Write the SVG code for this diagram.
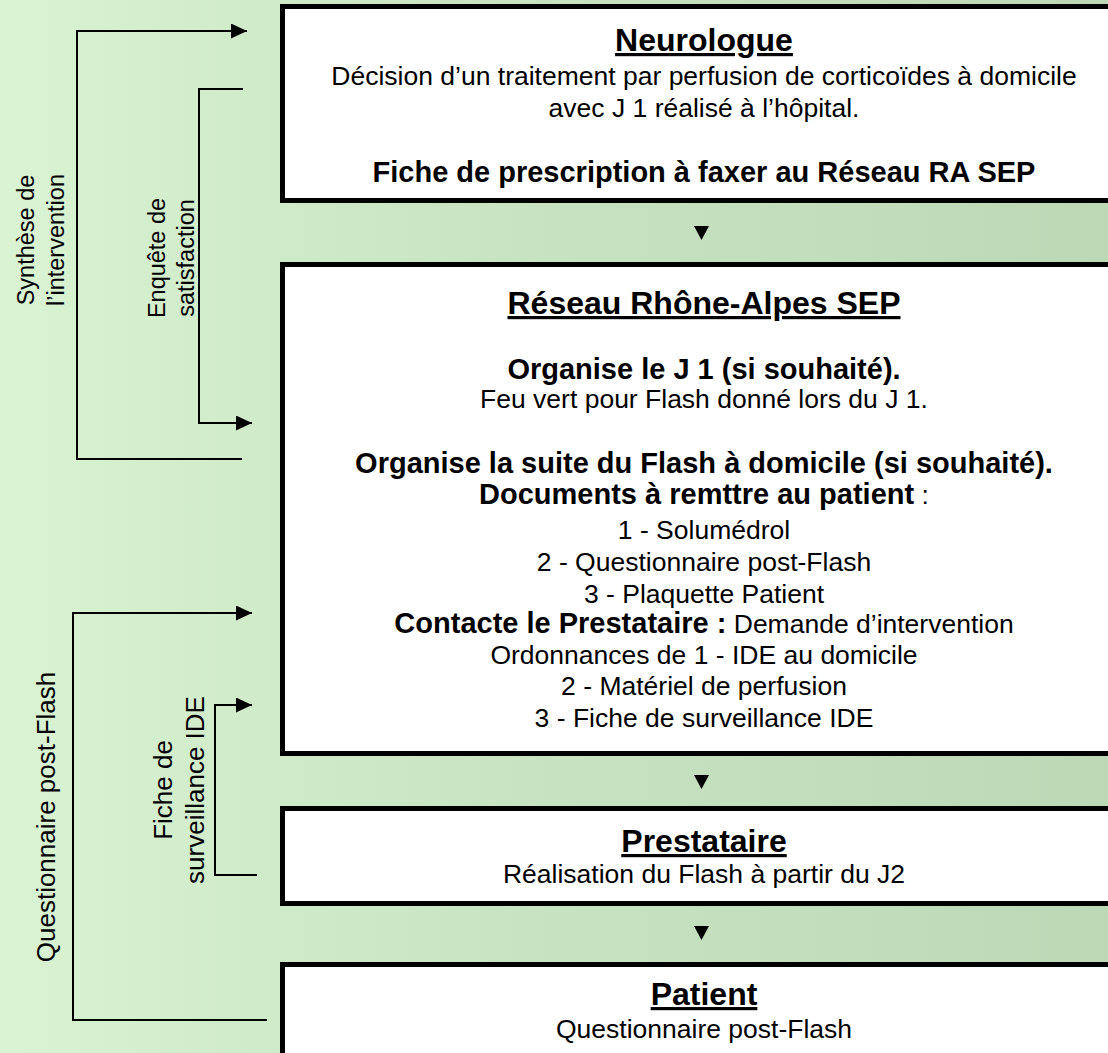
<svg xmlns="http://www.w3.org/2000/svg" width="1108" height="1053" viewBox="0 0 1108 1053">
<defs>
<linearGradient id="bg" x1="0" y1="0" x2="1108" y2="0" gradientUnits="userSpaceOnUse">
<stop offset="0" stop-color="#d9f3d3"/>
<stop offset="0.25" stop-color="#cfeac9"/>
<stop offset="0.5" stop-color="#c7e2c1"/>
<stop offset="1" stop-color="#bcd8b5"/>
</linearGradient>
<marker id="ah" markerUnits="userSpaceOnUse" markerWidth="16" markerHeight="15" refX="16" refY="7.5" orient="auto">
<path d="M0,0 L16,7.5 L0,15 z" fill="#000"/>
</marker>
</defs>
<style>
text{font-family:"Liberation Sans",Arial,Helvetica,sans-serif;fill:#000}
.box{fill:#fff;stroke:#000;stroke-width:5}
.t{font-size:32px;font-weight:bold;text-decoration:underline;text-anchor:middle}
.r{font-size:26.5px;text-anchor:middle}
.b{font-size:29px;font-weight:bold;text-anchor:middle}
.s{font-size:23.5px;text-anchor:middle}
.q{font-size:26px;text-anchor:middle}
.c{fill:none;stroke:#000;stroke-width:2}
.tri{fill:#000}
</style>
<rect x="0" y="0" width="1108" height="1053" fill="url(#bg)"/>

<g id="neurologue">
<rect class="box" x="282.5" y="6.5" width="900" height="194"/>
<text class="t" x="704" y="51">Neurologue</text>
<text class="r" x="704" y="85">Décision d’un traitement par perfusion de corticoïdes à domicile</text>
<text class="r" x="704" y="117">avec J 1 réalisé à l’hôpital.</text>
<text class="b" x="704" y="182">Fiche de prescription à faxer au Réseau RA SEP</text>
</g>

<g id="reseau">
<rect class="box" x="282.5" y="264.5" width="900" height="489"/>
<text class="t" x="704" y="314">Réseau Rhône-Alpes SEP</text>
<text class="b" x="704" y="379">Organise le J 1 (si souhaité).</text>
<text class="r" x="704" y="408">Feu vert pour Flash donné lors du J 1.</text>
<text class="b" x="704" y="473">Organise la suite du Flash à domicile (si souhaité).</text>
<text class="r" x="704" y="504"><tspan font-weight="bold" font-size="29px">Documents à remttre au patient</tspan> :</text>
<text class="r" x="704" y="539">1 - Solumédrol</text>
<text class="r" x="704" y="571">2 - Questionnaire post-Flash</text>
<text class="r" x="704" y="603">3 - Plaquette Patient</text>
<text class="r" x="704" y="633"><tspan font-weight="bold" font-size="29px">Contacte le Prestataire :</tspan> Demande d’intervention</text>
<text class="r" x="704" y="664">Ordonnances de 1 - IDE au domicile</text>
<text class="r" x="704" y="695">2 - Matériel de perfusion</text>
<text class="r" x="704" y="727">3 - Fiche de surveillance IDE</text>
</g>

<g id="prestataire">
<rect class="box" x="282.5" y="808.5" width="900" height="95"/>
<text class="t" x="704" y="852">Prestataire</text>
<text class="r" x="704" y="883">Réalisation du Flash à partir du J2</text>
</g>

<g id="patient">
<rect class="box" x="282.5" y="964.5" width="900" height="200"/>
<text class="t" x="704" y="1005">Patient</text>
<text class="r" x="704" y="1038">Questionnaire post-Flash</text>
</g>

<g id="connectors">
<polygon class="tri" points="694,226 709,226 701.5,240"/>
<polygon class="tri" points="694,775 709,775 701.5,789"/>
<polygon class="tri" points="694,926 709,926 701.5,940"/>
<path class="c" d="M242,459 H77 V31 H247" marker-end="url(#ah)"/>
<path class="c" d="M243,89 H199 V423 H252" marker-end="url(#ah)"/>
<path class="c" d="M267,1020 H73 V613 H252" marker-end="url(#ah)"/>
<path class="c" d="M257,875 H215 V705 H252" marker-end="url(#ah)"/>
</g>

<g id="labels">
<g transform="translate(33.5,240) rotate(-90)">
<text class="s" x="0" y="0">Synthèse de</text>
<text class="s" x="0" y="30.5">l’intervention</text>
</g>
<g transform="translate(165,258) rotate(-90)">
<text class="s" x="0" y="0">Enquête de</text>
<text class="s" x="0" y="29">satisfaction</text>
</g>
<g transform="translate(55,817) rotate(-90)">
<text class="q" x="0" y="0">Questionnaire post-Flash</text>
</g>
<g transform="translate(172,790) rotate(-90)">
<text class="q" x="0" y="0">Fiche de</text>
<text class="q" x="0" y="32">surveillance IDE</text>
</g>
</g>
</svg>
